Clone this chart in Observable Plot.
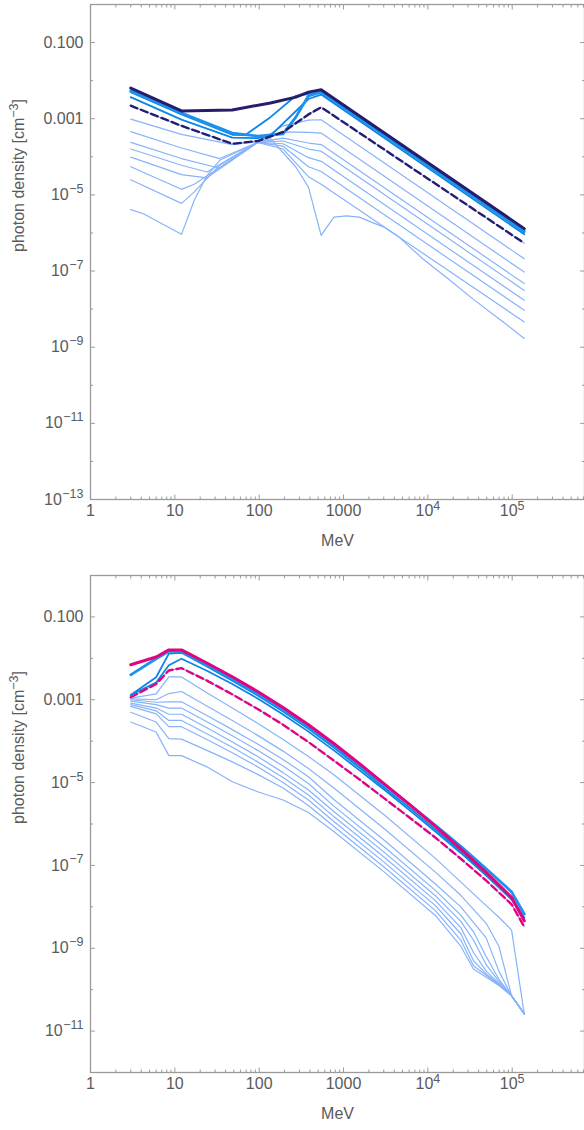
<!DOCTYPE html>
<html><head><meta charset="utf-8">
<script src="https://cdn.jsdelivr.net/npm/d3@7"></script>
<script src="https://cdn.jsdelivr.net/npm/@observablehq/plot@0.6"></script>
<style>
body{margin:0;background:#fff;}
#wrap{width:584px;height:1130px;overflow:hidden}
svg{display:block}
</style></head><body><div id="wrap"></div>
<script>
// ---------- data: [energy MeV, photon density cm^-3] ----------
// top panel
const topNavy  = [[3,6.4e-3],[12,1.6e-3],[48,1.7e-3],[136,2.6e-3],[272,3.7e-3],[384,5.0e-3],[543,5.8e-3],[139022,1.3e-6]];
const topBlueThick = [[3,5.3e-3],[12,1.4e-3],[48,4.2e-4],[96,3.5e-4],[192,4.0e-4],[272,1.1e-3],[384,4.0e-3],[543,5.0e-3],[139022,1.1e-6]];
const topBlue2 = [[3,5.0e-3],[12,1.3e-3],[48,3.8e-4],[68,3.7e-4],[136,1.1e-3],[272,4.0e-3],[543,5.0e-3],[139022,1.05e-6]];
const topBlue3 = [[3,3.7e-3],[12,9.5e-4],[48,3.2e-4],[96,3.1e-4],[136,3.6e-4],[384,3.3e-3],[543,4.3e-3],[139022,9.2e-7]];
const topDashed = [[3,2.2e-3],[12,6.5e-4],[48,2.2e-4],[96,2.6e-4],[192,4.5e-4],[384,1.3e-3],[543,2.0e-3],[139022,5.4e-7]];
const topLight = [
  [[3,9.8e-4],[12,3.9e-4],[48,2.1e-4],[96,2.5e-4],[192,6.5e-4],[384,9.2e-4],[543,9.4e-4],[139022,2.1e-7]],
  [[3,4.6e-4],[12,1.7e-4],[34,9e-5],[96,2.4e-4],[192,4.5e-4],[384,4.4e-4],[543,4.2e-4],[139022,9.4e-8]],
  [[3,2.4e-4],[12,9e-5],[34,5e-5],[96,2.4e-4],[192,3.1e-4],[384,2.3e-4],[543,2.1e-4],[139022,4.7e-8]],
  [[3,1.6e-4],[12,6e-5],[24,4e-5],[96,2.4e-4],[192,2.6e-4],[384,1.6e-4],[543,1.4e-4],[139022,3.1e-8]],
  [[3,9.8e-5],[12,3.4e-5],[24,2.8e-5],[96,2.4e-4],[192,2.2e-4],[384,9.5e-5],[543,7.6e-5],[139022,1.7e-8]],
  [[3,5.5e-5],[12,1.4e-5],[17,1.9e-5],[96,2.4e-4],[192,1.9e-4],[384,5.5e-5],[543,4.1e-5],[139022,9.3e-9]],
  [[3,2.5e-5],[12,6e-6],[17,1.2e-5],[34,6e-5],[96,2.4e-4],[192,1.6e-4],[384,3e-5],[543,1.9e-5],[139022,4.6e-9]],
  [[3,4.1e-6],[4.24,3.2e-6],[12,9.2e-7],[17,7.2e-6],[24,3.2e-5],[34,8.1e-5],[96,2.4e-4],[136,3.0e-4],[272,5.4e-5],[384,1.6e-5],[543,8.6e-7],[768,2.6e-6],[1086,2.8e-6],[1536,2.6e-6],[2172,1.9e-6],[3072,1.4e-6],[4345,8.5e-7],[8689,2.1e-7],[17378,6.3e-8],[34756,1.8e-8],[69511,5.6e-9],[139022,1.7e-9]]
];
// bottom panel
const botMagenta = [[3,7e-3],[6,1.08e-2],[8.49,1.6e-2],[12,1.6e-2],[24,7.7e-3],[48,3.6e-3],[96,1.58e-3],[192,6.5e-4],[384,2.5e-4],[768,8.8e-5],[1536,2.9e-5],[3072,9.2e-6],[6144,2.9e-6],[12288,8.8e-7],[24576,2.5e-7],[49152,6.8e-8],[98304,1.7e-8],[139022,4.6e-9]];
const botBlueThick = [[3,4e-3],[6,9.8e-3],[8.49,1.47e-2],[12,1.47e-2],[24,7.1e-3],[48,3.2e-3],[96,1.4e-3],[192,5.9e-4],[384,2.2e-4],[768,7.9e-5],[1536,2.6e-5],[3072,8.7e-6],[6144,2.9e-6],[12288,9.3e-7],[24576,2.9e-7],[49152,8.3e-8],[98304,2.3e-8],[139022,6.7e-9]];
const botBlue2 = [[3,1.3e-3],[6,3.5e-3],[8.49,1.3e-2],[12,1.36e-2],[24,6.4e-3],[48,2.9e-3],[96,1.27e-3],[192,5.2e-4],[384,2.0e-4],[768,7.0e-5],[1536,2.3e-5],[3072,7.4e-6],[6144,2.4e-6],[12288,7.4e-7],[24576,2.2e-7],[49152,6.2e-8],[98304,1.6e-8],[139022,5.5e-9]];
const botBlue3 = [[3,1.3e-3],[6,2.6e-3],[8.49,6.8e-3],[12,9.8e-3],[24,5.0e-3],[48,2.4e-3],[96,1.07e-3],[192,4.4e-4],[384,1.7e-4],[768,6.0e-5],[1536,2.0e-5],[3072,6.6e-6],[6144,2.1e-6],[12288,6.6e-7],[24576,2.0e-7],[49152,5.7e-8],[98304,1.5e-8],[139022,5.0e-9]];
const botDashed = [[3,1.15e-3],[6,2.4e-3],[8.49,5.1e-3],[12,5.8e-3],[24,2.9e-3],[48,1.35e-3],[96,6.0e-4],[192,2.5e-4],[384,9.5e-5],[768,3.4e-5],[1536,1.2e-5],[3072,4.1e-6],[6144,1.4e-6],[12288,4.7e-7],[24576,1.45e-7],[49152,4.3e-8],[98304,1.15e-8],[139022,3.3e-9]];
const botLight = [
  [[3,1.10e-3],[6,1.38e-3],[8.49,3.55e-3],[12,3.55e-3],[24,1.48e-3],[48,6.3e-4],[96,2.7e-4],[192,1.10e-4],[384,4.27e-5],[768,1.55e-5],[3072,1.62e-6],[12288,1.48e-7],[49152,1.07e-8],[69511,5.6e-9],[98304,2.75e-9],[139022,2.6e-11]],
  [[3,1.05e-3],[6,1.0e-3],[8.49,1.41e-3],[12,1.58e-3],[24,7.1e-4],[48,3.16e-4],[96,1.38e-4],[192,5.75e-5],[384,2.19e-5],[768,7.4e-6],[3072,7.6e-7],[12288,6.9e-8],[24576,1.9e-8],[49152,4.0e-9],[69511,1.12e-9],[98304,7.1e-11],[139022,2.6e-11]],
  [[3,1.0e-3],[6,8.7e-4],[8.49,8.9e-4],[12,8.9e-4],[24,4.17e-4],[48,1.9e-4],[96,8.5e-5],[192,3.63e-5],[384,1.38e-5],[768,3.9e-6],[3072,4.0e-7],[12288,3.55e-8],[24576,1.0e-8],[49152,1.78e-9],[69511,2.8e-10],[98304,7.1e-11],[139022,2.6e-11]],
  [[3,9.3e-4],[6,7.6e-4],[8.49,6.3e-4],[12,6.3e-4],[24,2.95e-4],[48,1.35e-4],[96,6.0e-5],[192,2.5e-5],[384,9.5e-6],[768,2.7e-6],[3072,2.75e-7],[12288,2.5e-8],[24576,6.3e-9],[34756,2.5e-9],[49152,6.3e-10],[69511,1.78e-10],[98304,7.1e-11],[139022,2.6e-11]],
  [[3,8.3e-4],[6,6.3e-4],[8.49,4.47e-4],[12,4.47e-4],[24,2.1e-4],[48,9.5e-5],[96,4.27e-5],[192,1.74e-5],[384,6.6e-6],[768,2.0e-6],[3072,2.04e-7],[12288,1.86e-8],[24576,4.47e-9],[34756,1.58e-9],[49152,4.0e-10],[69511,1.58e-10],[98304,7.1e-11],[139022,2.6e-11]],
  [[3,7.6e-4],[6,5.4e-4],[8.49,3.16e-4],[12,3.16e-4],[24,1.51e-4],[48,7.1e-5],[96,3.16e-5],[192,1.32e-5],[384,5.0e-6],[768,1.51e-6],[3072,1.55e-7],[12288,1.41e-8],[24576,3.16e-9],[34756,7.9e-10],[49152,2.8e-10],[69511,1.41e-10],[98304,7.1e-11],[139022,2.6e-11]],
  [[3,6.9e-4],[6,4.57e-4],[8.49,2.24e-4],[12,2.24e-4],[24,1.1e-4],[48,5.25e-5],[96,2.4e-5],[192,1.0e-5],[384,3.8e-6],[768,1.15e-6],[3072,1.17e-7],[12288,1.07e-8],[24576,2.24e-9],[34756,5.0e-10],[49152,2.4e-10],[69511,1.35e-10],[98304,7.1e-11],[139022,2.6e-11]],
  [[3,5.0e-4],[6,2.9e-4],[8.49,1.15e-4],[12,1.12e-4],[24,6.0e-5],[48,3.16e-5],[96,1.58e-5],[192,7.4e-6],[384,2.8e-6],[768,8.7e-7],[3072,8.9e-8],[12288,8.1e-9],[24576,1.58e-9],[34756,3.8e-10],[49152,2.24e-10],[69511,1.32e-10],[98304,7.1e-11],[139022,2.6e-11]],
  [[3,2.9e-4],[6,1.66e-4],[8.49,4.47e-5],[12,4.47e-5],[24,2.4e-5],[48,1.05e-5],[96,6.0e-6],[192,3.8e-6],[384,1.9e-6],[768,6.6e-7],[3072,6.8e-8],[12288,6.2e-9],[24576,1.12e-9],[34756,3.16e-10],[49152,2.0e-10],[69511,1.26e-10],[98304,7.1e-11],[139022,2.6e-11]]
];

// ---------- ticks & texts ----------
const xMajor = [1,10,100,1000,1e4,1e5];
const xMajorLabels = [["1"],["10"],["100"],["1000"],["10","4"],["10","5"]];
const xMinor = [2,3,4,5,6,7,8,9,20,30,40,50,60,70,80,90,200,300,400,500,600,700,800,900,2e3,3e3,4e3,5e3,6e3,7e3,8e3,9e3,2e4,3e4,4e4,5e4,6e4,7e4,8e4,9e4,2e5,3e5,4e5,5e5,6e5,7e5];
const topYLabeled = [1e-1,1e-3,1e-5,1e-7,1e-9,1e-11,1e-13];
const topYLabels = [["0.100"],["0.001"],["10","−5"],["10","−7"],["10","−9"],["10","−11"],["10","−13"]];
const topYMinor = [1,1e-2,1e-4,1e-6,1e-8,1e-10,1e-12];
const botYLabeled = [1e-1,1e-3,1e-5,1e-7,1e-9,1e-11];
const botYLabels = [["0.100"],["0.001"],["10","−5"],["10","−7"],["10","−9"],["10","−11"]];
const botYMinor = [1,1e-2,1e-4,1e-6,1e-8,1e-10,1e-12];
const yTitle = ["photon density [cm", "−3", "]"];
const xTitle = "MeV";

const C = {light:"#86b3fb", blue:"#0b86e6", blueThick:"#1a93ee", navy:"#251d6d", magenta:"#e2047f", frame:"#9a9a9a", text:"#5a5a5a"};
const FONT = "Liberation Sans";
const FS = 16, ES = 12.5;   // base and exponent font sizes
const ctx = document.createElement("canvas").getContext("2d");
function tw(s, size) { ctx.font = `${size}px "${FONT}"`; return ctx.measureText(s).width; }

function lineMark(data, stroke, w, dash) {
  return Plot.line(data, {x: d => d[0], y: d => d[1], stroke, strokeWidth: w, strokeDasharray: dash, strokeLinejoin: "round"});
}

function yLabelMarks(vals, labels) {
  const out = [];
  vals.forEach((v, i) => {
    const [base, exp] = labels[i];
    const ew = exp ? tw(exp, ES) + 0.5 : 0;
    out.push(Plot.text([v], {y: d => d, frameAnchor: "left", text: () => base, textAnchor: "end", dx: -7 - ew, fontSize: FS, fill: C.text}));
    if (exp) out.push(Plot.text([v], {y: d => d, frameAnchor: "left", text: () => exp, textAnchor: "end", dx: -7, dy: -6, fontSize: ES, fill: C.text}));
  });
  return out;
}
function xLabelMarks(vals, labels) {
  const out = [];
  vals.forEach((v, i) => {
    const [base, exp] = labels[i];
    if (!exp) { out.push(Plot.text([v], {x: d => d, frameAnchor: "bottom", text: () => base, dy: 16, fontSize: FS, fill: C.text})); return; }
    const bw = tw(base, FS), ew = tw(exp, ES), W = bw + ew;
    out.push(Plot.text([v], {x: d => d, frameAnchor: "bottom", text: () => base, textAnchor: "start", dx: -W / 2, dy: 16, fontSize: FS, fill: C.text}));
    out.push(Plot.text([v], {x: d => d, frameAnchor: "bottom", text: () => exp, textAnchor: "start", dx: -W / 2 + bw, dy: 10, fontSize: ES, fill: C.text}));
  });
  return out;
}

function panel({height, marginTop, marginBottom, yDomain, yLab, yLabTxt, yMin, light, blues, blueThick, dashed, main, mainColor}) {
  const none = () => "";
  const svg = Plot.plot({
    width: 584, height, marginLeft: 90, marginRight: 0, marginTop, marginBottom,
    style: {fontFamily: FONT, fontSize: FS + "px", color: C.text, background: "#fff"},
    x: {type: "log", domain: [1, 7.2e5]},
    y: {type: "log", domain: yDomain},
    marks: [
      Plot.axisX(xMajor, {anchor: "bottom", tickSize: -4.5, stroke: C.frame, tickFormat: none, label: null}),
      Plot.axisX(xMinor, {anchor: "bottom", tickSize: -2.5, stroke: C.frame, tickFormat: none, label: null}),
      Plot.axisX(xMajor, {anchor: "top", tickSize: -4.5, stroke: C.frame, tickFormat: none, label: null}),
      Plot.axisX(xMinor, {anchor: "top", tickSize: -2.5, stroke: C.frame, tickFormat: none, label: null}),
      Plot.axisY(yLab, {anchor: "left", tickSize: -5, stroke: C.frame, tickFormat: none, label: null}),
      Plot.axisY(yMin, {anchor: "left", tickSize: -3, stroke: C.frame, tickFormat: none, label: null}),
      Plot.axisY(yLab, {anchor: "right", tickSize: -5, stroke: C.frame, tickFormat: none, label: null}),
      Plot.axisY(yMin, {anchor: "right", tickSize: -3, stroke: C.frame, tickFormat: none, label: null}),
      Plot.frame({stroke: C.frame, strokeWidth: 1.3}),
      ...yLabelMarks(yLab, yLabTxt),
      ...xLabelMarks(xMajor, xMajorLabels),
      Plot.text([yTitle.join("")], {frameAnchor: "left", dx: -72, rotate: -90, fill: C.text, fontSize: FS, text: d => d}),
      Plot.text([xTitle], {frameAnchor: "bottom", dy: 46, fill: C.text, fontSize: FS, text: d => d}),
      ...light.map(s => lineMark(s, C.light, 1.2)),
      lineMark(dashed, C.light, 1.2),
      ...blues.map(s => lineMark(s, C.blue, 1.8)),
      lineMark(blueThick, C.blueThick, 2.8),
      lineMark(dashed, mainColor, 2.4, "7,4"),
      lineMark(main, mainColor, 3)
    ]
  });
  svg.querySelectorAll("text").forEach(t => {
    if (t.textContent === yTitle.join("")) {
      t.textContent = "";
      const ns = "http://www.w3.org/2000/svg";
      const a = document.createElementNS(ns, "tspan"); a.textContent = yTitle[0];
      const b = document.createElementNS(ns, "tspan"); b.textContent = yTitle[1]; b.setAttribute("dy", "-6"); b.setAttribute("font-size", ES);
      const c = document.createElementNS(ns, "tspan"); c.textContent = yTitle[2]; c.setAttribute("dy", "6");
      t.append(a, b, c);
    }
  });
  return svg;
}

const wrap = document.getElementById("wrap");
wrap.append(panel({height: 560, marginTop: 4, marginBottom: 61, yDomain: [1e-13, 1],
  yLab: topYLabeled, yLabTxt: topYLabels, yMin: topYMinor,
  light: topLight, blues: [topBlue2, topBlue3], blueThick: topBlueThick, dashed: topDashed, main: topNavy, mainColor: C.navy}));
wrap.append(panel({height: 570, marginTop: 15, marginBottom: 58, yDomain: [1e-12, 1],
  yLab: botYLabeled, yLabTxt: botYLabels, yMin: botYMinor,
  light: botLight, blues: [botBlue2, botBlue3], blueThick: botBlueThick, dashed: botDashed, main: botMagenta, mainColor: C.magenta}));
</script></body></html>
